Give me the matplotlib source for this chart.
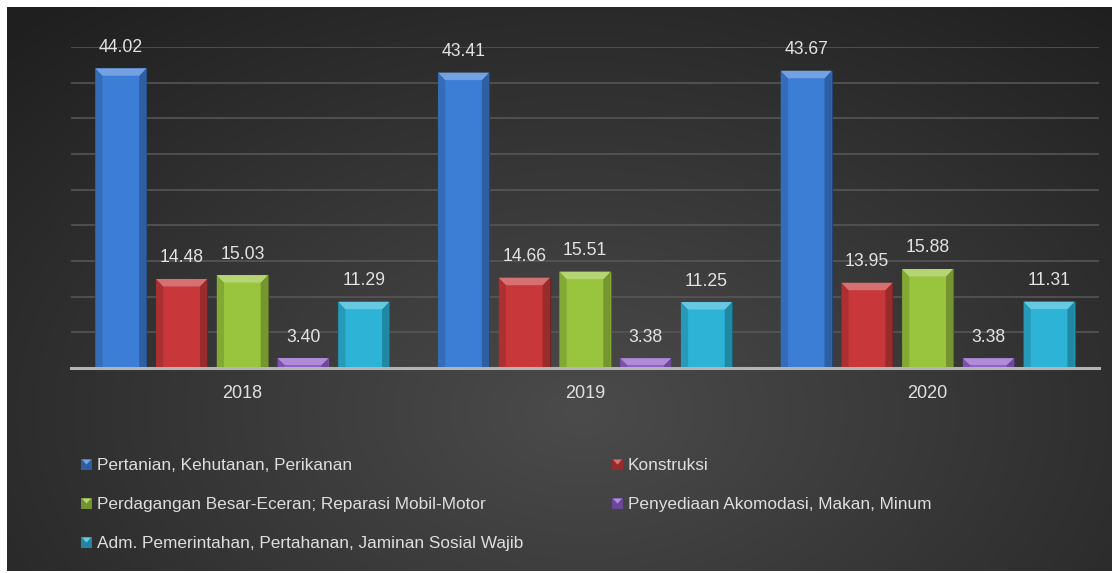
import numpy as np
import matplotlib
matplotlib.use("Agg")
import matplotlib.pyplot as plt
from matplotlib.patches import Rectangle, Polygon
from matplotlib.colors import to_rgb

plt.rcParams['font.family'] = ['Liberation Sans', 'DejaVu Sans']

# ---------------- data ----------------
years = ["2018", "2019", "2020"]
series_names = [
    "Pertanian, Kehutanan, Perikanan",
    "Konstruksi",
    "Perdagangan Besar-Eceran; Reparasi Mobil-Motor",
    "Penyediaan Akomodasi, Makan, Minum",
    "Adm. Pemerintahan, Pertahanan, Jaminan Sosial Wajib",
]
pertanian = [44.02, 43.41, 43.67]
konstruksi = [14.48, 14.66, 13.95]
perdagangan = [15.03, 15.51, 15.88]
penyediaan = [3.40, 3.38, 3.38]
adm = [11.29, 11.25, 11.31]
all_series = [pertanian, konstruksi, perdagangan, penyediaan, adm]

colors = ["#3c7dd6", "#c8383a", "#98c43e", "#8f5fc9", "#2cb3d6"]

# axis settings (as in the source chart)
y_min, y_max, y_step = 2, 47, 5

W, H = 1112, 573
fig = plt.figure(figsize=(W / 100, H / 100), dpi=100, facecolor="white")

# ---------------- background radial gradient ----------------
bg = fig.add_axes([7 / W, 2 / H, (W - 7) / W, 564 / H])
bg.set_axis_off()
ny, nx = 300, 600
yy, xx = np.mgrid[0:1:ny * 1j, 0:1:nx * 1j]
d = np.sqrt(((xx - 0.52) / 0.75) ** 2 + ((yy - 0.72) / 0.95) ** 2)
d = np.clip(d, 0, 1)
c_in = np.array([0x4b, 0x4b, 0x4b]) / 255
c_out = np.array([0x1f, 0x1f, 0x1f]) / 255
img = c_in[None, None, :] * (1 - d[..., None]) + c_out[None, None, :] * d[..., None]
bg.imshow(img, aspect="auto", extent=[0, 1, 0, 1], interpolation="bicubic")
bg.set_xlim(0, 1)
bg.set_ylim(0, 1)

# ---------------- main axes ----------------
ax = fig.add_axes([71 / W, 205 / H, 1028 / W, 321 / H])
ax.set_facecolor("none")
ax.set_xlim(-0.5, 2.5)
ax.set_ylim(y_min, y_max)
for s in ax.spines.values():
    s.set_visible(False)
ax.set_yticks(np.arange(y_min, y_max + 0.1, y_step))
ax.yaxis.grid(True, color="#595959", lw=1.1)
ax.set_axisbelow(True)
ax.tick_params(axis="y", length=0, labelleft=False)
centers = np.arange(len(years))
ax.set_xticks(centers)
ax.set_xticklabels(years, color="#e0e0e0", fontsize=13)
ax.tick_params(axis="x", length=0, pad=12.5)
ax.axhline(y_min, color="#b4b4b4", lw=2.2, zorder=5, clip_on=False)

pitch = 0.1772
width = 0.149
bx = 0.021   # bevel width in data units
by = 1.05    # bevel height in data units


def shade(c, f):
    r = np.array(to_rgb(c))
    if f >= 0:
        return tuple(r + (1 - r) * f)
    return tuple(r * (1 + f))


for i, (vals, col) in enumerate(zip(all_series, colors)):
    xs = centers + (i - 2) * pitch
    ax.bar(xs, vals, width, color=col, edgecolor=shade(col, -0.45), lw=0.8, zorder=3)
    for x, v in zip(xs, vals):
        x0, x1 = x - width / 2, x + width / 2
        byy = min(by, (v - y_min) * 0.7)
        ax.add_patch(Polygon([(x0, v), (x0 + bx, v - byy), (x0 + bx, y_min), (x0, y_min)],
                             closed=True, color=shade(col, -0.14), lw=0, zorder=3.5))
        ax.add_patch(Polygon([(x1, v), (x1 - bx, v - byy), (x1 - bx, y_min), (x1, y_min)],
                             closed=True, color=shade(col, -0.24), lw=0, zorder=3.5))
        ax.add_patch(Polygon([(x0, v), (x1, v), (x1 - bx, v - byy), (x0 + bx, v - byy)],
                             closed=True, color=shade(col, 0.28), lw=0, zorder=3.6))
        ax.annotate(f"{v:.2f}", (x, v), xytext=(0, 9), textcoords="offset points",
                    ha="center", va="bottom", color="#e2e2e2", fontsize=12.7, zorder=6)

# ---------------- legend (manual) ----------------
legend_order = [(0, 0, 0), (1, 1, 0), (2, 0, 1), (3, 1, 1), (4, 0, 2)]
col_marker_x = [81, 612]
row_center_y = [464, 503, 542]
msize = 11
for idx, c, r in legend_order:
    col = colors[idx]
    mx = col_marker_x[c]
    cy = row_center_y[r]
    fx, fy = mx / W, 1 - (cy + msize / 2) / H
    fw, fh = msize / W, msize / H
    fig.add_artist(Rectangle((fx, fy), fw, fh, transform=fig.transFigure,
                             facecolor=shade(col, -0.25), edgecolor="none"))
    fig.add_artist(Polygon([(fx + 1 / W, fy + fh - 1 / H), (fx + fw - 1 / W, fy + fh - 1 / H),
                            (fx + fw / 2, fy + fh * 0.45)], closed=True,
                           transform=fig.transFigure, facecolor=shade(col, 0.3), edgecolor="none"))
    fig.text((mx + msize + 5) / W, 1 - (cy + 6) / H, series_names[idx],
             color="#dedede", fontsize=12.4, ha="left", va="baseline")

fig.savefig("out.png", dpi=100, facecolor="white")
